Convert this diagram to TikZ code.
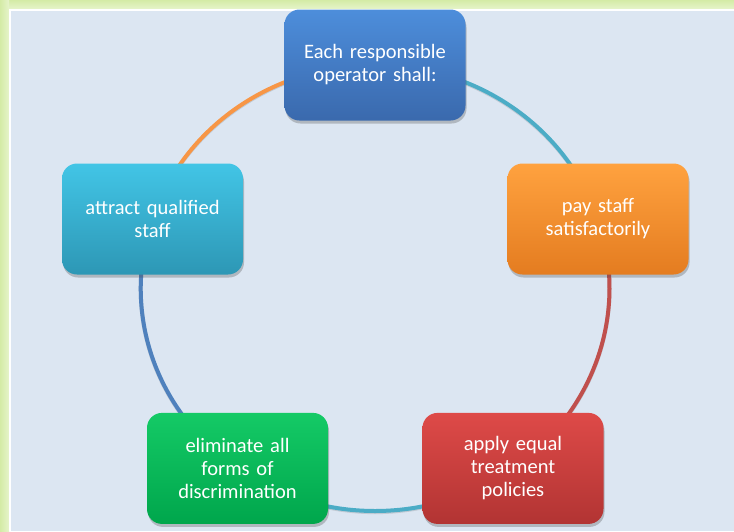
\documentclass[tikz,border=0pt]{standalone}
\usepackage{fontspec}
\setmainfont{Carlito}
\usetikzlibrary{shadows}
\pgfdeclarelayer{bglayer}
\pgfdeclarelayer{arclayer}
\pgfsetlayers{bglayer,arclayer,main}
\definecolor{pagebg}{HTML}{DCE6F2}
\definecolor{frameout}{HTML}{D4EBA6}
\definecolor{framein}{HTML}{E6F4CA}
\definecolor{arcteal}{HTML}{4BACC6}
\definecolor{arcred}{HTML}{C0504D}
\definecolor{arcblue}{HTML}{4F81BD}
\definecolor{arcorange}{HTML}{F79646}
\definecolor{blueT}{HTML}{4D8EDB}
\definecolor{blueB}{HTML}{3A69AD}
\definecolor{orangeT}{HTML}{FFA23F}
\definecolor{orangeB}{HTML}{E47C20}
\definecolor{redT}{HTML}{DE4A48}
\definecolor{redB}{HTML}{B23433}
\definecolor{greenT}{HTML}{14CA66}
\definecolor{greenB}{HTML}{00A64C}
\definecolor{cyanT}{HTML}{42C5E6}
\definecolor{cyanB}{HTML}{2D97B5}
\tikzset{
  cyclebox/.style={rectangle, rounded corners=15pt, minimum width=181pt,
    minimum height=111pt, text width=172pt, align=center, text=white,
    font=\fontsize{20.5pt}{23pt}\selectfont, inner sep=0pt,
    drop shadow={shadow xshift=1pt, shadow yshift=-3pt, opacity=0.3, fill=black!70}},
  arcline/.style={line width=4pt},
  arcshadow/.style={line width=4pt, draw=black, opacity=0.12, yshift=-1.5pt}
}
\begin{document}
\begin{tikzpicture}[x=1pt,y=-1pt]
\useasboundingbox (0,0) rectangle (734,531);
\begin{pgfonlayer}{bglayer}
  \fill[framein] (0,0) rectangle (734,531);
  \shade[top color=frameout, bottom color=framein] (0,0) rectangle (734,9);
  \shade[left color=frameout, right color=framein] (0,0) rectangle (9,531);
  \fill[white] (9,9) rectangle (734,531);
  \fill[pagebg] (10.5,10.5) rectangle (734,531);
\end{pgfonlayer}

\node[cyclebox, top color=blueT, bottom color=blueB] (n1) at (375,65)
  {Each responsible\\operator shall:};
\node[cyclebox, top color=orangeT, bottom color=orangeB] (n2) at (598,219)
  {pay staff\\satisfactorily};
\node[cyclebox, top color=redT, bottom color=redB] (n3) at (513,468.4)
  {apply equal\\treatment\\policies};
\node[cyclebox, top color=greenT, bottom color=greenB] (n4) at (237.5,468.4)
  {eliminate all\\forms of\\discrimination};
\node[cyclebox, top color=cyanT, bottom color=cyanB] (n5) at (152.5,219)
  {attract qualified\\staff};

\begin{pgfonlayer}{arclayer}
  \draw[arcshadow] (n1.center) .. controls (476.6,65) and (566.6,127.2) .. (n2.center);
  \draw[arcshadow] (n2.center) .. controls (629.4,311.0) and (595.0,411.6) .. (n3.center);
  \draw[arcshadow] (n3.center) .. controls (430.6,525.2) and (319.4,525.2) .. (n4.center);
  \draw[arcshadow] (n4.center) .. controls (155.0,411.6) and (120.6,311.0) .. (n5.center);
  \draw[arcshadow] (n5.center) .. controls (183.4,127.2) and (273.4,65) .. (n1.center);
  \draw[arcline, arcteal] (n1.center) .. controls (476.6,65) and (566.6,127.2) .. (n2.center);
  \draw[arcline, arcred] (n2.center) .. controls (629.4,311.0) and (595.0,411.6) .. (n3.center);
  \draw[arcline, arcteal] (n3.center) .. controls (430.6,525.2) and (319.4,525.2) .. (n4.center);
  \draw[arcline, arcblue] (n4.center) .. controls (155.0,411.6) and (120.6,311.0) .. (n5.center);
  \draw[arcline, arcorange] (n5.center) .. controls (183.4,127.2) and (273.4,65) .. (n1.center);
\end{pgfonlayer}
\end{tikzpicture}
\end{document}
